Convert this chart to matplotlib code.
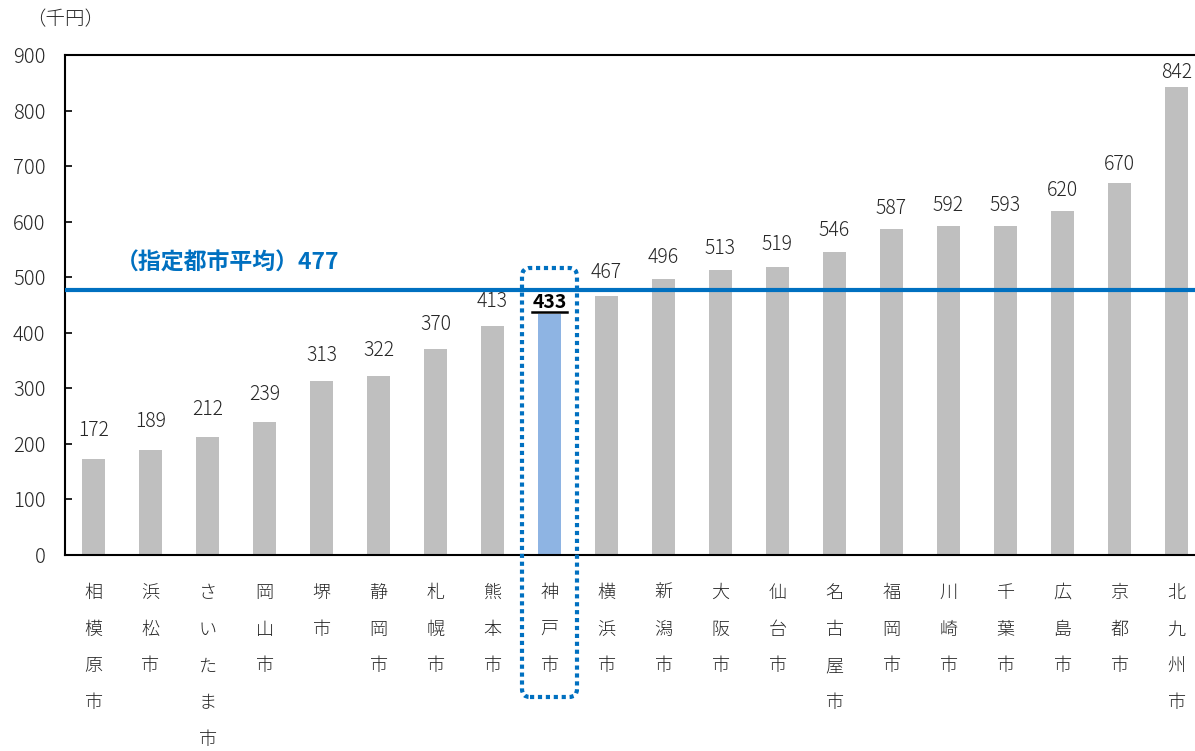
import matplotlib
matplotlib.use("Agg")
import matplotlib.pyplot as plt
from matplotlib.patches import FancyBboxPatch
from matplotlib.lines import Line2D

plt.rcParams['font.family'] = ['Noto Sans CJK JP', 'DejaVu Sans']

cities = ["相模原市", "浜松市", "さいたま市", "岡山市", "堺市", "静岡市", "札幌市", "熊本市",
          "神戸市", "横浜市", "新潟市", "大阪市", "仙台市", "名古屋市", "福岡市", "川崎市",
          "千葉市", "広島市", "京都市", "北九州市"]
values = [172, 189, 212, 239, 313, 322, 370, 413, 433, 467, 496, 513, 519, 546, 587, 592,
          593, 620, 670, 842]
highlight = "神戸市"
average = 477
avg_label = "（指定都市平均）477"
unit_label = "（千円）"
yticks = [0, 100, 200, 300, 400, 500, 600, 700, 800, 900]

GRAY = "#BFBFBF"
KOBE = "#8EB4E3"
BLUE = "#0070C0"
TXT = "#262626"

W, H = 1195, 751
fig = plt.figure(figsize=(W / 100, H / 100), dpi=100)
ax = fig.add_axes([65 / W, 1 - 555 / H, 1140 / W, 500 / H])

x = list(range(len(cities)))
colors = [KOBE if c == highlight else GRAY for c in cities]
ax.bar(x, values, width=0.42, color=colors, zorder=2)

ax.set_xlim(-0.5, len(cities) - 0.5)
ax.set_ylim(0, 900)
ax.set_yticks(yticks)
ax.set_yticklabels([str(t) for t in yticks], fontsize=14.5, color=TXT, fontweight='light')
ax.tick_params(axis='y', direction='in', length=5, width=1.2, pad=14)
ax.set_xticks([])
for s in ['left', 'bottom', 'top']:
    ax.spines[s].set_linewidth(1.5)
    ax.spines[s].set_color("#000000")
ax.spines['right'].set_visible(False)

# average line
ax.axhline(average, color=BLUE, linewidth=3, zorder=3)
ax.text(0.40, 525, avg_label, color=BLUE, fontsize=16.5, fontweight='bold',
        ha='left', va='center')

# value labels (label gap shrinks slightly as bars get taller, as in the source)
vmin, vmax = min(values), max(values)
for xi, v, c in zip(x, values, cities):
    if c == highlight:
        ax.annotate(str(v), (xi, v), xytext=(0, 2), textcoords='offset points',
                    ha='center', va='bottom', fontsize=14, fontweight='bold', color="#000000")
        ax.add_line(Line2D([xi - 0.3, xi + 0.3], [v + 5, v + 5], color="#000000", linewidth=1.8))
    else:
        off = 13.3 - (v - vmin) / (vmax - vmin) * 10.1
        ax.annotate(str(v), (xi, v), xytext=(0, off), textcoords='offset points',
                    ha='center', va='bottom', fontsize=14, color=TXT, fontweight='light')

# vertical category labels
for xi, c in zip(x, cities):
    for k, ch in enumerate(c):
        ax.annotate(ch, (xi, 0), xytext=(0, -27.4 - 26.4 * k), textcoords='offset points',
                    ha='center', va='center', fontsize=13, color=TXT, fontweight='light',
                    annotation_clip=False)

# highlight box around Kobe
ki = cities.index(highlight)
px_x = 57.0
px_y = 500.0 / 900.0
x0 = ki - 27.5 / px_x
x1 = ki + 27.5 / px_x
y0 = -(697 - 555) / px_y
y1 = (555 - 268) / px_y
r = 8 / px_x
asp = (8 / px_y) / r
box = FancyBboxPatch((x0, y0), x1 - x0, y1 - y0,
                     boxstyle=f"round,pad=0,rounding_size={r}", mutation_aspect=asp,
                     fill=False, edgecolor=BLUE, linewidth=3, linestyle=(0, (1, 0.9)),
                     clip_on=False, zorder=4)
ax.add_patch(box)

fig.text(26 / W, 1 - 20 / H, unit_label, fontsize=14, color=TXT, ha='left', va='center',
         fontweight='light')

fig.savefig("out.png", dpi=100)
